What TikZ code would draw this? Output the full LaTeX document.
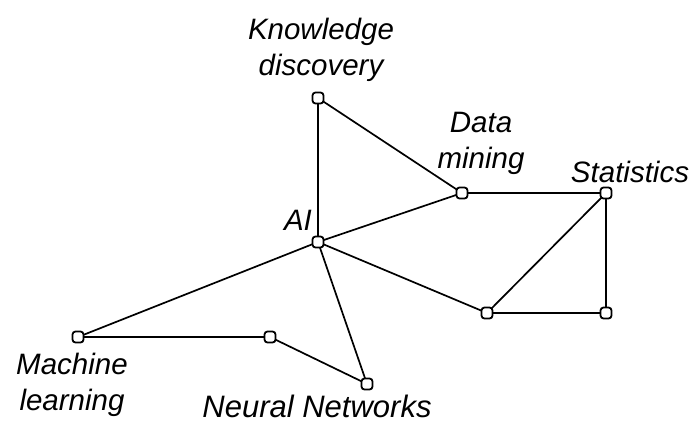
\documentclass[tikz,border=0pt]{standalone}
\usepackage{fontspec}
\setmainfont{Liberation Sans}
\usetikzlibrary{positioning}

\begin{document}
\begin{tikzpicture}[x=1pt,y=-1pt,
    main node/.style={draw,fill=white,rectangle,rounded corners=3pt,
      minimum size=11pt,inner sep=0pt,line width=1.8pt},
    label node/.style={font=\fontsize{29.5}{36}\selectfont\itshape,align=center,
      inner sep=0pt,anchor=base},
    every path/.style={line width=1.7pt}]
    \useasboundingbox (0,0) rectangle (698,423);

    % labels, placed at the baseline of their last line
    \node[label node] (kdl) at (321,75) {Knowledge\\discovery};
    \node[label node] (dml) at (481,168) {Data\\mining};
    \node[label node] (stl) at (630,182) {Statistics};
    \node[label node] (ail) at (298,230) {AI};
    \node[label node] (mll) at (72,410) {Machine\\learning};
    \node[label node,font=\fontsize{31}{36}\selectfont\itshape] (nnl) at (317,417) {Neural Networks};

    \path
    (318,98) coordinate (kd)
    (462,193) coordinate (dm)
    (606,193) coordinate (st)
    (318,242) coordinate (ai)
    (487,313) coordinate (bl)
    (606,313) coordinate (br)
    (78,337) coordinate (ml)
    (270,337) coordinate (nm)
    (367,384) coordinate (nn);

    \draw (kd) -- (ai)
          (kd) -- (dm)
          (ai) -- (dm)
          (dm) -- (st)
          (st) -- (bl)
          (st) -- (br)
          (bl) -- (br)
          (ai) -- (bl)
          (ai) -- (ml)
          (ai) -- (nn)
          (ml) -- (nm)
          (nm) -- (nn);

    \foreach \n in {kd,dm,st,ai,bl,br,ml,nm,nn}
      \node[main node] (\n n) at (\n) {};
\end{tikzpicture}
\end{document}
